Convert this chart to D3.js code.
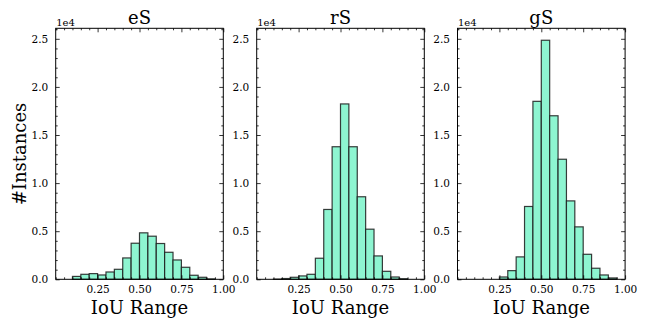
<!DOCTYPE html>
<html>
<head>
<meta charset="utf-8">
<script src="https://cdn.jsdelivr.net/npm/d3@7/dist/d3.min.js"></script>
<style>
  html, body { margin: 0; padding: 0; background: #fff; }
  svg { display: block; }
  text { font-family: "DejaVu Serif", serif; fill: #000; }
</style>
</head>
<body>
<svg id="chart" width="645" height="318"></svg>
<script>
// Bin left edges (bin width 0.05, from 0.00 to 0.95)
const binStarts = [0.00, 0.05, 0.10, 0.15, 0.20, 0.25, 0.30, 0.35, 0.40, 0.45,
                   0.50, 0.55, 0.60, 0.65, 0.70, 0.75, 0.80, 0.85, 0.90, 0.95];
const binWidth = 0.05;

const panelTitles = ["eS", "rS", "gS"];

const eSCounts = [0, 0, 300, 520, 590, 450, 760, 1040, 2220, 3750,
                  4830, 4480, 3720, 2810, 2010, 1250, 420, 210, 40, 0];
const rSCounts = [0, 0, 20, 80, 210, 350, 520, 2190, 7260, 13780,
                  18230, 13780, 8580, 5210, 2430, 830, 240, 60, 0, 0];
const gSCounts = [0, 0, 0, 0, 0, 240, 900, 2330, 7570, 18500,
                  24850, 17000, 12480, 8150, 5450, 2600, 1150, 450, 140, 0];

const xTickValues = [0.25, 0.50, 0.75, 1.00];
const yTickValues = [0, 5000, 10000, 15000, 20000, 25000];
const xLabel = "IoU Range";
const yLabel = "#Instances";
const offsetLabel = "1e4";

const seriesList = [eSCounts, rSCounts, gSCounts];

const svg = d3.select("#chart");
const panelLefts = [55.7, 256.7, 457.5];
const panelWidth = 167.6;
const plotTop = 28.3, plotBottom = 279.3;

const yMax = d3.max(gSCounts.concat(rSCounts, eSCounts)) * 1.05;
const y = d3.scaleLinear().domain([0, yMax]).range([plotBottom, plotTop]);

const fillColor = "#8ef5d1";
const edgeColor = "#1a1a1a";

seriesList.forEach((counts, i) => {
  const left = panelLefts[i];
  const x = d3.scaleLinear().domain([0, 1]).range([left, left + panelWidth]);
  const g = svg.append("g");

  // bars
  const data = binStarts.map((b, k) => ({ x0: b, x1: b + binWidth, v: counts[k] }));
  g.selectAll("rect.bar").data(data).enter().append("rect")
    .attr("class", "bar")
    .attr("x", d => x(d.x0))
    .attr("y", d => y(d.v))
    .attr("width", d => x(d.x1) - x(d.x0))
    .attr("height", d => y(0) - y(d.v))
    .attr("fill", fillColor)
    .attr("stroke", edgeColor)
    .attr("stroke-opacity", 0.85)
    .attr("stroke-width", 1.2);

  // axes with inward ticks
  const xMinor = d3.range(0, 1.0001, 0.05).filter(v => !xTickValues.some(t => Math.abs(t - v) < 1e-6));
  const yMinor = d3.range(0, 26001, 1000).filter(v => v % 5000 !== 0);
  const fmtY = d => (d / 10000).toFixed(1);

  const bottomAxis = d3.axisBottom(x).tickValues(xTickValues).tickFormat(d3.format(".2f"))
    .tickSizeInner(-4).tickSizeOuter(0).tickPadding(6.5);
  const bottomMinor = d3.axisBottom(x).tickValues(xMinor).tickFormat("").tickSizeInner(-2).tickSizeOuter(0);
  const topAxis = d3.axisTop(x).tickValues(xTickValues).tickFormat("").tickSizeInner(-4).tickSizeOuter(0);
  const topMinor = d3.axisTop(x).tickValues(xMinor).tickFormat("").tickSizeInner(-2).tickSizeOuter(0);
  const leftAxis = d3.axisLeft(y).tickValues(yTickValues).tickFormat(fmtY)
    .tickSizeInner(-4).tickSizeOuter(0).tickPadding(7.5);
  const leftMinor = d3.axisLeft(y).tickValues(yMinor).tickFormat("").tickSizeInner(-2).tickSizeOuter(0);
  const rightAxis = d3.axisRight(y).tickValues(yTickValues).tickFormat("").tickSizeInner(-4).tickSizeOuter(0);
  const rightMinor = d3.axisRight(y).tickValues(yMinor).tickFormat("").tickSizeInner(-2).tickSizeOuter(0);

  const axes = [
    [bottomAxis, `translate(0,${plotBottom})`], [bottomMinor, `translate(0,${plotBottom})`],
    [topAxis, `translate(0,${plotTop})`], [topMinor, `translate(0,${plotTop})`],
    [leftAxis, `translate(${left},0)`], [leftMinor, `translate(${left},0)`],
    [rightAxis, `translate(${left + panelWidth},0)`], [rightMinor, `translate(${left + panelWidth},0)`]
  ];
  axes.forEach(([ax, tr]) => {
    const a = g.append("g").attr("transform", tr).call(ax);
    a.select(".domain").remove();
    a.selectAll("line").attr("stroke", "#000").attr("stroke-width", 0.8);
    a.selectAll("text").style("font-family", "DejaVu Serif, serif").style("font-size", "10.5px").attr("fill", "#000");
  });

  // frame
  g.append("rect")
    .attr("x", left).attr("y", plotTop)
    .attr("width", panelWidth).attr("height", plotBottom - plotTop)
    .attr("fill", "none").attr("stroke", "#000").attr("stroke-width", 1);

  // title
  g.append("text")
    .attr("x", left + panelWidth / 2).attr("y", 23.5)
    .attr("text-anchor", "middle")
    .style("font-size", "18px")
    .text(panelTitles[i]);

  // offset label
  g.append("text")
    .attr("x", left + 0.5).attr("y", 25.5)
    .style("font-size", "10px")
    .text(offsetLabel);

  // x label
  g.append("text")
    .attr("x", left + panelWidth / 2).attr("y", 313.5)
    .attr("text-anchor", "middle")
    .style("font-size", "18px")
    .text(xLabel);
});

// y label
svg.append("text")
  .attr("transform", "translate(26,154) rotate(-90)")
  .attr("text-anchor", "middle")
  .style("font-size", "18px")
  .text(yLabel);
</script>
</body>
</html>
